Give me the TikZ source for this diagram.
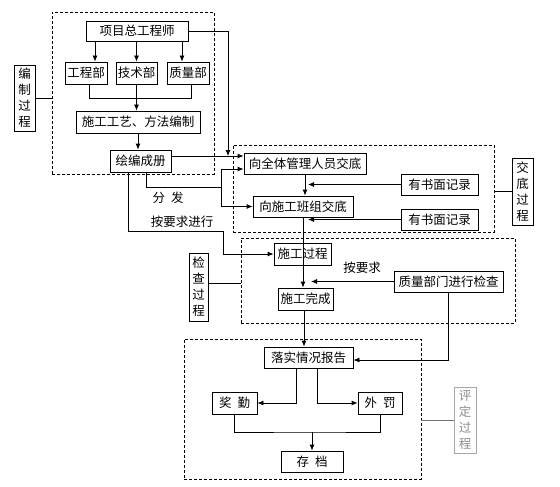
\documentclass[tikz,border=0pt]{standalone}
\usepackage{fontspec}
\setmainfont{Noto Sans CJK SC}
\usetikzlibrary{arrows.meta}

\begin{document}
\begin{tikzpicture}[x=1pt,y=-1pt,
    font=\fontsize{12.5}{16}\selectfont,
    box/.style={draw,line width=.8pt,inner sep=0pt,minimum height=21pt},
    tag/.style={draw,line width=.8pt,inner sep=0pt,align=center},
    frame/.style={draw,dash pattern=on 3pt off 2pt,line width=.8pt,inner sep=0pt},
    arr/.style={line width=.8pt,-{Latex[length=6pt,width=5pt]}},
    ln/.style={line width=.8pt}]
    \useasboundingbox (0,0) rectangle (560,487);

    % dashed frames
    \node[frame,minimum width=162pt,minimum height=162pt] (f1) at (133,93) {};
    \node[frame,minimum width=261pt,minimum height=87pt] (f2) at (363.5,188.5) {};
    \node[frame,minimum width=274pt,minimum height=85pt] (f3) at (378,280.5) {};
    \node[frame,minimum width=237pt,minimum height=140pt] (f4) at (302.5,409) {};

    % side tags
    \node[tag,minimum width=21pt,minimum height=66pt] (tagA) at (24.5,98) {编\\制\\过\\程};
    \node[tag,minimum width=21pt,minimum height=67pt] (tagB) at (522.5,191.5) {交\\底\\过\\程};
    \node[tag,minimum width=19pt,minimum height=68pt] (tagC) at (198.5,287) {检\\查\\过\\程};
    \node[tag,draw=black!35,text=black!45,minimum width=22pt,minimum height=66pt] (tagD) at (465,420) {评\\定\\过\\程};

    % compile
    \node[box,minimum width=102pt,minimum height=20pt] (chief) at (137,31) {项目总工程师};
    \node[box,minimum width=42pt,minimum height=22pt] (eng) at (86,73) {工程部};
    \node[box,minimum width=41pt,minimum height=22pt] (tech) at (136.5,73) {技术部};
    \node[box,minimum width=42pt,minimum height=22pt] (qual) at (188,73) {质量部};
    \node[box,minimum width=124pt,minimum height=22pt] (craft) at (138,122) {施工工艺、方法编制};
    \node[box,minimum width=61pt,minimum height=22pt] (book) at (140.5,161) {绘编成册};

    % briefing
    \node[box,minimum width=122pt] (all) at (305,163.5) {向全体管理人员交底};
    \node[box,minimum width=100pt] (team) at (303,206.5) {向施工班组交底};
    \node[box,minimum width=77pt] (recA) at (439.5,184.5) {有书面记录};
    \node[box,minimum width=77pt] (recB) at (439.5,219.5) {有书面记录};

    % checking
    \node[box,minimum width=57pt,minimum height=22pt] (proc) at (302.5,254) {施工过程};
    \node[box,minimum width=55pt,minimum height=22pt] (done) at (305.5,299) {施工完成};
    \node[box,minimum width=109pt] (check) at (448.5,281.5) {质量部门进行检查};

    % rating
    \node[box,minimum width=89pt] (report) at (308.5,357.5) {落实情况报告};
    \node[box,minimum width=45pt,minimum height=22pt] (reward) at (234.5,403) {奖\hspace{6pt}勤};
    \node[box,minimum width=44pt,minimum height=22pt] (fine) at (380,403) {外\hspace{6pt}罚};
    \node[box,minimum width=62pt] (archive) at (312,461.5) {存\hspace{6pt}档};

    % labels
    \node (lblSend) at (168,198) {分\hspace{6pt}发};
    \node (lblReq) at (182,222) {按要求进行};
    \node (lblAsk) at (362,268) {按要求};

    \coordinate (m1) at (228,156);
    \coordinate (m2) at (221,187);
    \coordinate (m3) at (223,231);
    \coordinate (m4) at (312,432);

    \draw[arr] ([xshift=9pt]eng.north |- chief.south) -- ([xshift=9pt]eng.north);
    \draw[arr] (tech.north |- chief.south) -- (tech.north);
    \draw[arr] ([xshift=-6pt]qual.north |- chief.south) -- ([xshift=-6pt]qual.north);
    \draw[ln] ([xshift=3pt]eng.south) -- ++(0,14) -| ([xshift=3pt]qual.south);
    \draw[arr] (tech.south) -- (tech.south |- craft.north);
    \draw[arr] (craft.south) -- (craft.south |- book.north);

    \draw[arr] ([yshift=5pt]book.east) -- (m1 -| all.west);
    \draw[arr] (chief.east) -| (m1);
    \draw[ln] ([xshift=5.5pt]book.south) |- (m2);
    \draw[arr] (m2) |- ([yshift=-5.5pt]all.west);
    \draw[arr] (m2) |- (team.west);
    \draw[arr] ([xshift=-12.5pt]book.south) |- (m3) |- (proc.west);

    \draw[arr] (all.south) -- (all.south |- team.north);
    \draw[arr] (recA.west) -- ([xshift=3pt]all.south |- recA.west);
    \draw[arr] (recB.west) -- ([xshift=3pt]all.south |- recB.west);
    \draw[arr] (team.south) -- (team.south |- done.north);
    \draw[arr] (check.west) -- ([xshift=8pt]team.south |- check.west);

    \draw[arr] ([xshift=-1.5pt]done.south) -- ([xshift=-1.5pt]done.south |- report.north);
    \draw[arr] (check.south) |- ([yshift=-2.5pt]report.east);
    \draw[arr] ([xshift=-12.5pt]report.south) |- (reward.east);
    \draw[arr] ([xshift=8.5pt]report.south) |- (fine.west);
    \draw[ln] (reward.south) |- (m4) -| (fine.south);
    \draw[arr] (m4) -- (archive.north);

    \draw[ln] (tagA.east) -- (tagA.east -| f1.west);
    \draw[ln] (tagB.west) -- (tagB.west -| f2.east);
    \draw[ln] ([yshift=4pt]tagC.east) -- ([yshift=4pt]tagC.east -| f3.west);
    \draw[ln,black!55] (tagD.west) -- (tagD.west -| f4.east);

\end{tikzpicture}
\end{document}
